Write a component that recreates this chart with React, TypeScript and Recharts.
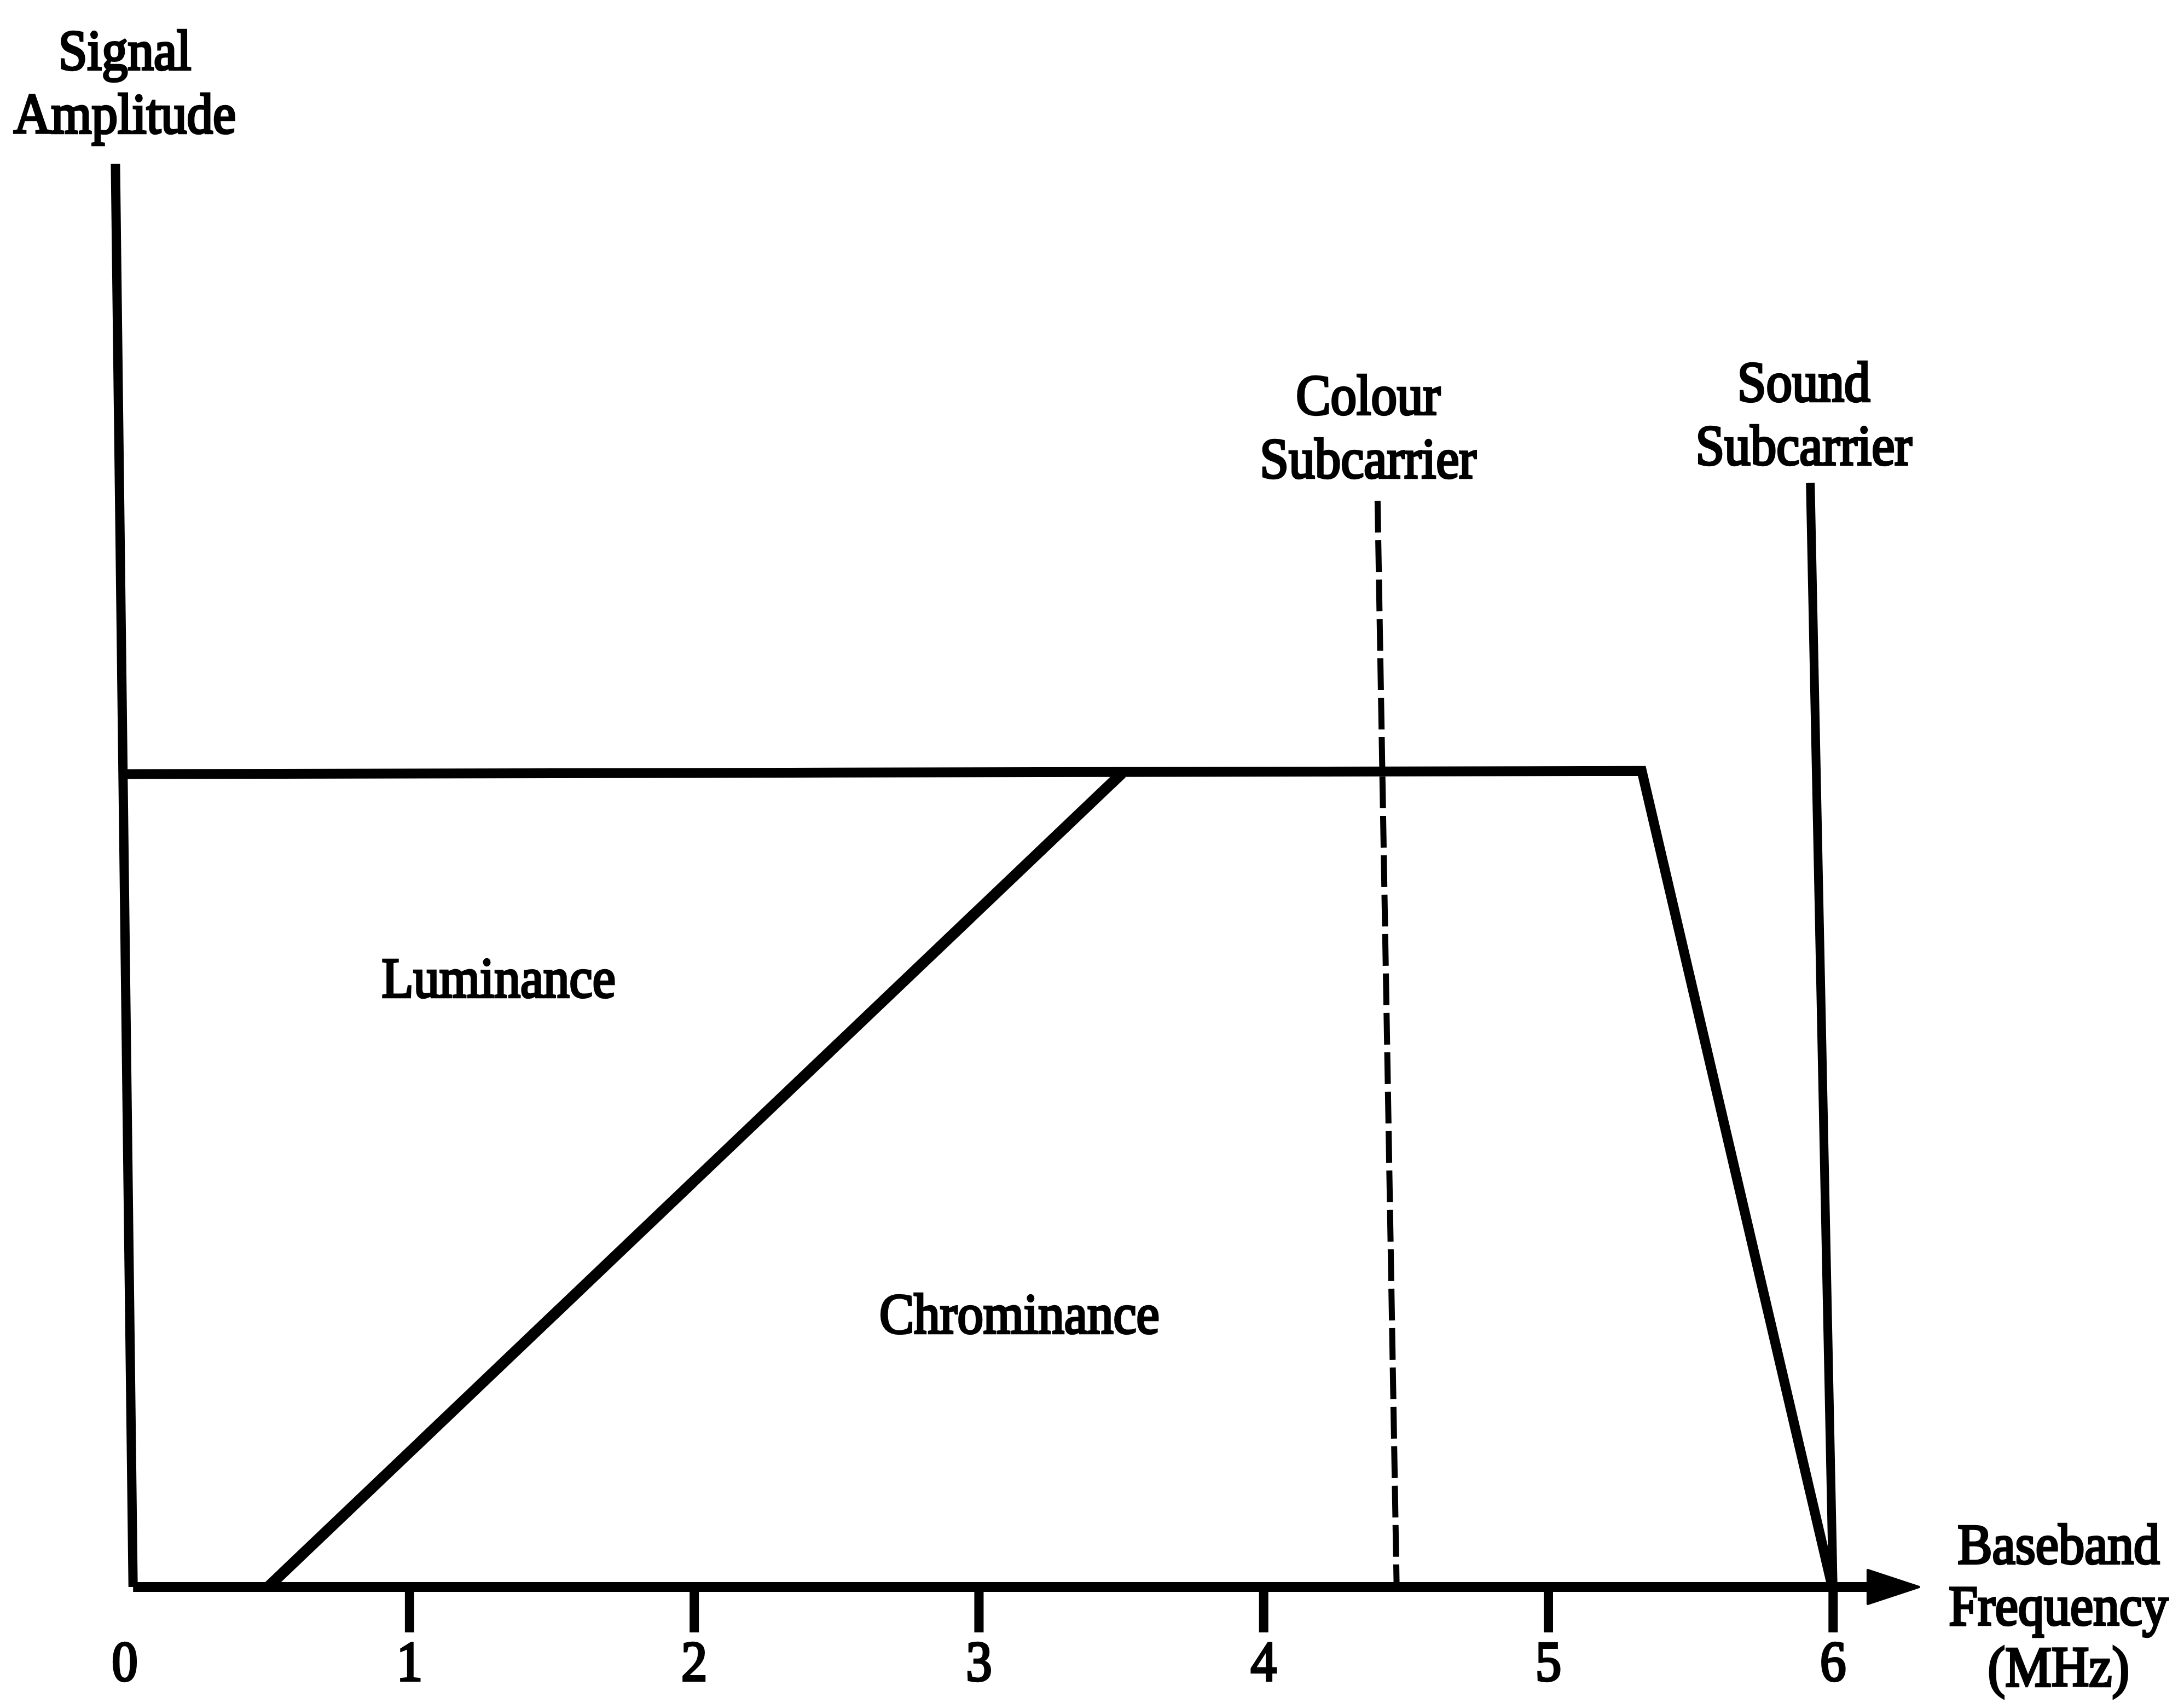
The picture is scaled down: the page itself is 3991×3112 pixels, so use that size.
import React from 'react';
import { ComposedChart, Line, Scatter, XAxis, YAxis } from 'recharts';

// ---- data (frequency in MHz, amplitude relative to full luminance level = 1) ----
const freqTicks = [0, 1, 2, 3, 4, 5, 6];
const tickLabels = ['0', '1', '2', '3', '4', '5', '6'];

const amplitudeAxis = [
  { f: -0.033, a: 1.749 },
  { f: 0.029, a: 0 },
];
const frequencyAxis = [
  { f: 0.029, a: 0 },
  { f: 6.2, a: 0 },
];
const arrowTip = [{ f: 6.302, a: 0 }];
const luminanceEnvelope = [
  { f: -0.006, a: 0.999 },
  { f: 5.328, a: 1.003 },
  { f: 5.997, a: 0 },
];
const chrominanceEdge = [
  { f: 0.503, a: 0 },
  { f: 3.502, a: 1.0 },
];
const colourSubcarrier = [
  { f: 4.4, a: 1.335 },
  { f: 4.467, a: 0 },
];
const soundSubcarrier = [
  { f: 5.92, a: 1.357 },
  { f: 6.0, a: 0 },
];
const annotations = [
  { f: 0.0, a: 1.865, lines: ['Signal', 'Amplitude'] },
  { f: 4.367, a: 1.441, lines: ['Colour', 'Subcarrier'] },
  { f: 5.897, a: 1.4575, lines: ['Sound', 'Subcarrier'] },
  { f: 1.313, a: 0.725, lines: ['Luminance'] },
  { f: 3.142, a: 0.312, lines: ['Chrominance'] },
  { f: 6.792, a: 0.029, lines: ['Baseband', 'Frequency', '(MHz)'] },
];

// ---- styles ----
const W = 3991;
const H = 3112;
const TICK_LEN = 83;
const TICK_GAP = 15;
const textStyle: React.CSSProperties = {
  fontFamily: "'Liberation Serif', 'Times New Roman', serif",
  fontSize: 95,
  fill: '#000',
  stroke: '#000',
  strokeWidth: 4,
};

const AnnotationShape = (props: any) => {
  const { cx, cy, payload } = props;
  const lineH = payload.lines.length > 2 ? 112 : 116;
  return (
    <g>
      {payload.lines.map((t: string, i: number) => (
        <text
          key={i}
          transform={`translate(${cx} ${cy + i * lineH}) scale(1 1.1)`}
          x={0}
          y={0}
          textAnchor="middle"
          style={textStyle}
        >
          {t}
        </text>
      ))}
    </g>
  );
};

const ArrowHead = (props: any) => {
  const { cx, cy } = props;
  return (
    <path
      d={`M${cx},${cy} L${cx - 94},${cy - 31} L${cx - 94},${cy + 31} Z`}
      fill="#000"
      stroke="#000"
      strokeWidth={4}
      strokeLinejoin="round"
    />
  );
};

const FreqTick = (props: any) => {
  const { x, y, payload, index } = props;
  const base = y - TICK_LEN - TICK_GAP;
  return (
    <g>
      {payload.value !== 0 && (
        <line x1={x} x2={x} y1={base} y2={base + TICK_LEN} stroke="#000" strokeWidth={17} />
      )}
      <text
        transform={`translate(${x} ${y + 73}) scale(1 1.1)`}
        x={0}
        y={0}
        textAnchor="middle"
        style={textStyle}
      >
        {tickLabels[index] ?? String(payload.value)}
      </text>
    </g>
  );
};

export default function App() {
  return (
    <div style={{ position: 'absolute', left: 0, top: 0, width: W, height: H, background: '#fff' }}>
      <ComposedChart
        width={W}
        height={H}
        margin={{ top: 75, right: 225, bottom: 12, left: 20 }}
      >
        <XAxis
          type="number"
          dataKey="f"
          domain={[-0.4, 6.8]}
          ticks={freqTicks}
          interval={0}
          axisLine={false}
          tickLine={false}
          tickSize={TICK_LEN}
          tickMargin={TICK_GAP}
          height={200}
          tick={<FreqTick />}
        />
        <YAxis type="number" dataKey="a" domain={[0, 1.9]} hide />
        <Line
          data={amplitudeAxis}
          dataKey="a"
          stroke="#000"
          strokeWidth={17}
          dot={false}
          activeDot={false}
          isAnimationActive={false}
        />
        <Line
          data={luminanceEnvelope}
          dataKey="a"
          stroke="#000"
          strokeWidth={18}
          strokeLinejoin="miter"
          dot={false}
          activeDot={false}
          isAnimationActive={false}
        />
        <Line
          data={chrominanceEdge}
          dataKey="a"
          stroke="#000"
          strokeWidth={20}
          dot={false}
          activeDot={false}
          isAnimationActive={false}
        />
        <Line
          data={colourSubcarrier}
          dataKey="a"
          stroke="#000"
          strokeWidth={11}
          strokeDasharray="58 14"
          dot={false}
          activeDot={false}
          isAnimationActive={false}
        />
        <Line
          data={soundSubcarrier}
          dataKey="a"
          stroke="#000"
          strokeWidth={16}
          dot={false}
          activeDot={false}
          isAnimationActive={false}
        />
        <Line
          data={frequencyAxis}
          dataKey="a"
          stroke="#000"
          strokeWidth={18}
          dot={false}
          activeDot={false}
          isAnimationActive={false}
        />
        <Scatter data={arrowTip} dataKey="a" shape={<ArrowHead />} isAnimationActive={false} />
        <Scatter data={annotations} dataKey="a" shape={<AnnotationShape />} isAnimationActive={false} />
      </ComposedChart>
    </div>
  );
}
